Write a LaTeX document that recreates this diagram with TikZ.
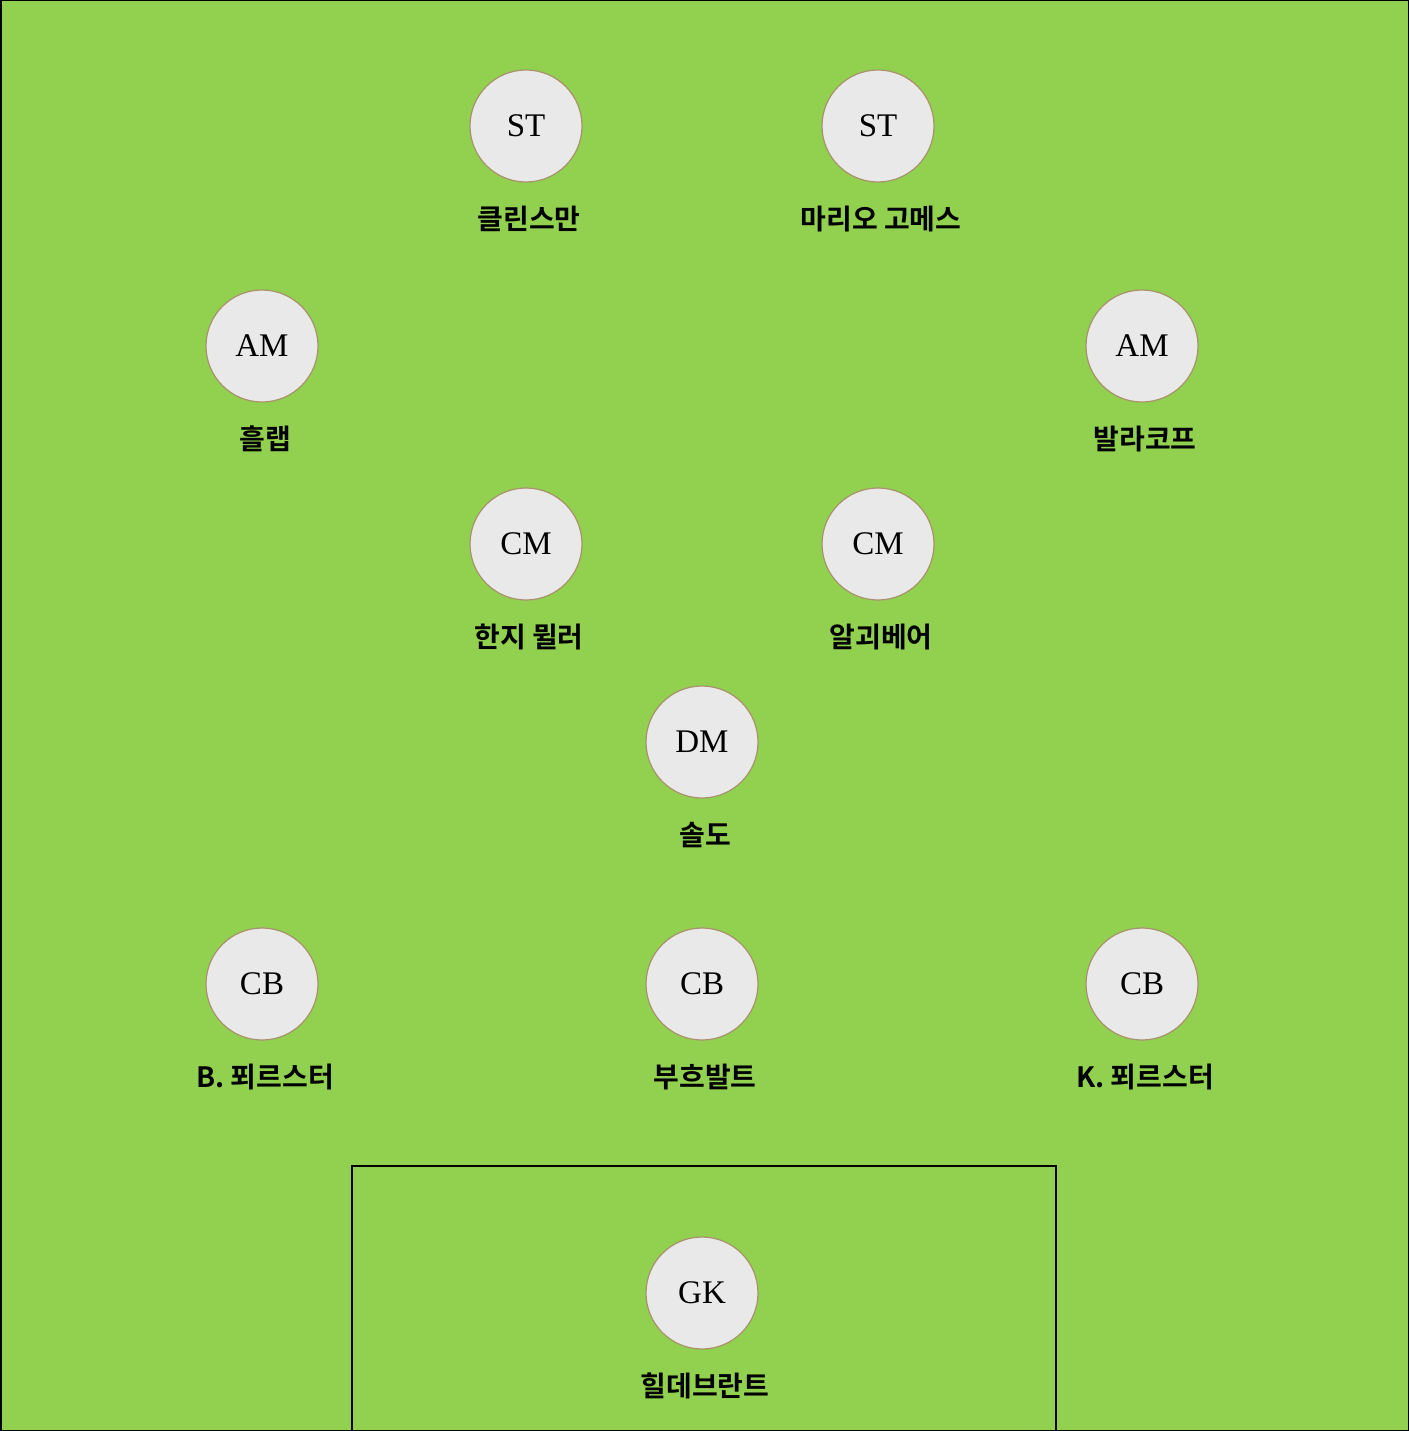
\documentclass[tikz,border=0pt]{standalone}
\usepackage{fontspec}
\newfontfamily\korfont{Noto Sans CJK KR}[BoldFont={* Bold}]
\newfontfamily\posfont{Liberation Serif}
\usetikzlibrary{positioning}
\definecolor{pitchgreen}{HTML}{92D050}
\definecolor{discgray}{HTML}{E9E9E9}
\definecolor{disctan}{HTML}{A8926C}
\tikzset{
    pitch/.style={fill=pitchgreen},
    player/.style={circle,fill=discgray,draw=disctan,line width=1.2pt,minimum size=112pt,inner sep=0pt,font=\posfont\fontsize{33}{38}\selectfont},
    player name/.style={inner sep=0pt,font=\korfont\bfseries\fontsize{28}{32}\selectfont,xshift=3pt},
    box line/.style={line width=2.8pt},
}

\begin{document}
\begin{tikzpicture}[x=1pt,y=-1pt]
        \useasboundingbox (0,0) rectangle (1409,1431);
        \fill[pitch] (0,0) rectangle (1409,1431);
        \draw[line width=1.5pt] (0.75,0.75) rectangle (1408.25,1430.25);
        \draw[box line] (352,1431) -- (352,1166) -- (1056,1166) -- (1056,1431);
        % forwards
        \node[player] (st1) at (526,126) {ST};
        \node[player] (st2) at (878,126) {ST};
        \node[player name,below=23pt of st1] {클린스만};
        \node[player name,below=23pt of st2] {마리오 고메스};
        % attacking midfield
        \node[player] (am1) at (262,346) {AM};
        \node[player] (am2) at (1142,346) {AM};
        \node[player name,below=23pt of am1] {흘랩};
        \node[player name,below=23pt of am2] {발라코프};
        % central midfield
        \node[player] (cm1) at (526,544) {CM};
        \node[player] (cm2) at (878,544) {CM};
        \node[player name,below=23pt of cm1] {한지 뮐러};
        \node[player name,below=23pt of cm2] {알괴베어};
        \node[player] (dm) at (702,742) {DM};
        \node[player name,below=23pt of dm] {솔도};
        % defence
        \node[player] (cb1) at (262,984) {CB};
        \node[player] (cb2) at (702,984) {CB};
        \node[player] (cb3) at (1142,984) {CB};
        \node[player name,below=23pt of cb1] {B. 푀르스터};
        \node[player name,below=23pt of cb2] {부흐발트};
        \node[player name,below=23pt of cb3] {K. 푀르스터};
        % keeper
        \node[player] (gk) at (702,1293) {GK};
        \node[player name,below=23pt of gk] {힐데브란트};
    \end{tikzpicture}
\end{document}
